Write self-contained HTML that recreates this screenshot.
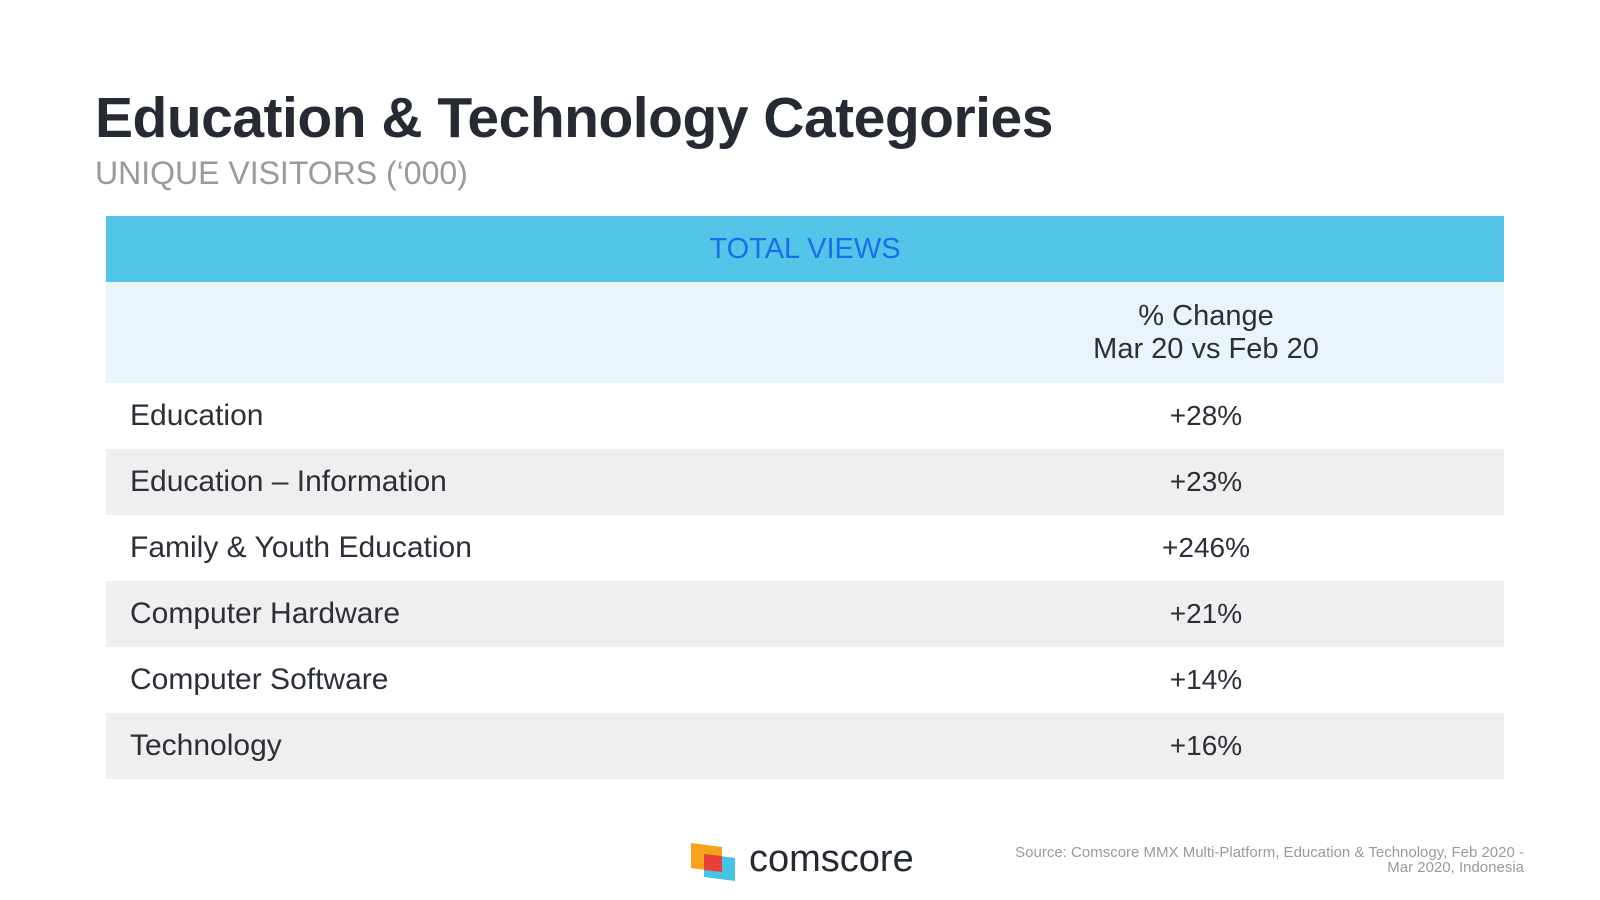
<!DOCTYPE html>
<html><head><meta charset="utf-8"><style>
body{margin:0;width:1600px;height:900px;background:#fff;font-family:"Liberation Sans",sans-serif;position:relative;overflow:hidden}
.a{position:absolute}
.row{position:absolute;left:106px;width:1398px;height:66px;font-size:30px;color:#2b2f38}
.row .l{position:absolute;left:24px;top:16px}
.row .v{position:absolute;left:1000px;width:200px;text-align:center;top:17px;font-size:28px}
</style></head><body>
<div class="a" style="left:95px;top:85px;font-size:57px;font-weight:bold;color:#262a33;letter-spacing:-0.5px">Education &amp; Technology Categories</div>
<div class="a" style="left:95px;top:155px;font-size:32px;color:#9a9a9a">UNIQUE VISITORS (‘000)</div>
<div class="a" style="left:106px;top:216px;width:1398px;height:66px;background:#53c5e9"><div style="position:absolute;left:0;width:1398px;text-align:center;top:17px;font-size:29px;color:#1a6fe8">TOTAL VIEWS</div></div>
<div class="a" style="left:106px;top:282px;width:1398px;height:101px;background:#eaf4fb"><div style="position:absolute;left:950px;width:300px;text-align:center;top:18px;font-size:29px;line-height:33px;color:#2b2f38">% Change<br>Mar 20 vs Feb 20</div></div>
<div id="rows"></div>
<svg class="a" style="left:689px;top:841px" width="48" height="42"><polygon points="2,2 33,6 33,31 2,27" fill="#f7a21b"/><polygon points="15,13 46,17 46,40 15,36" fill="#47c3e6"/><polygon points="15,13 33,15 33,31 15,29" fill="#e8413a"/></svg>
<div class="a" style="left:749px;top:838px;font-size:38px;color:#262a33">comscore</div>
<div class="a" style="left:924px;width:600px;top:845px;font-size:15px;line-height:15px;color:#9a9a9a;text-align:right">Source: Comscore MMX Multi-Platform, Education &amp; Technology, Feb 2020 -<br>Mar 2020, Indonesia</div>
<script>
const categories=["Education","Education - Information","Family & Youth Education","Computer Hardware","Computer Software","Technology"];
const changes=["+28%","+23%","+246%","+21%","+14%","+16%"];
const c=document.getElementById('rows');
categories.forEach((cat,i)=>{
const r=document.createElement('div');r.className='row';


r.style.top=(383+i*66)+'px';r.style.background=i%2?'#efefef':'#fff';
const l=document.createElement('div');l.className='l';l.textContent=cat.replace(' - ',' – ');


const v=document.createElement('div');v.className='v';v.textContent=changes[i];


r.appendChild(l);r.appendChild(v);c.appendChild(r);});
</script>
</body></html>
